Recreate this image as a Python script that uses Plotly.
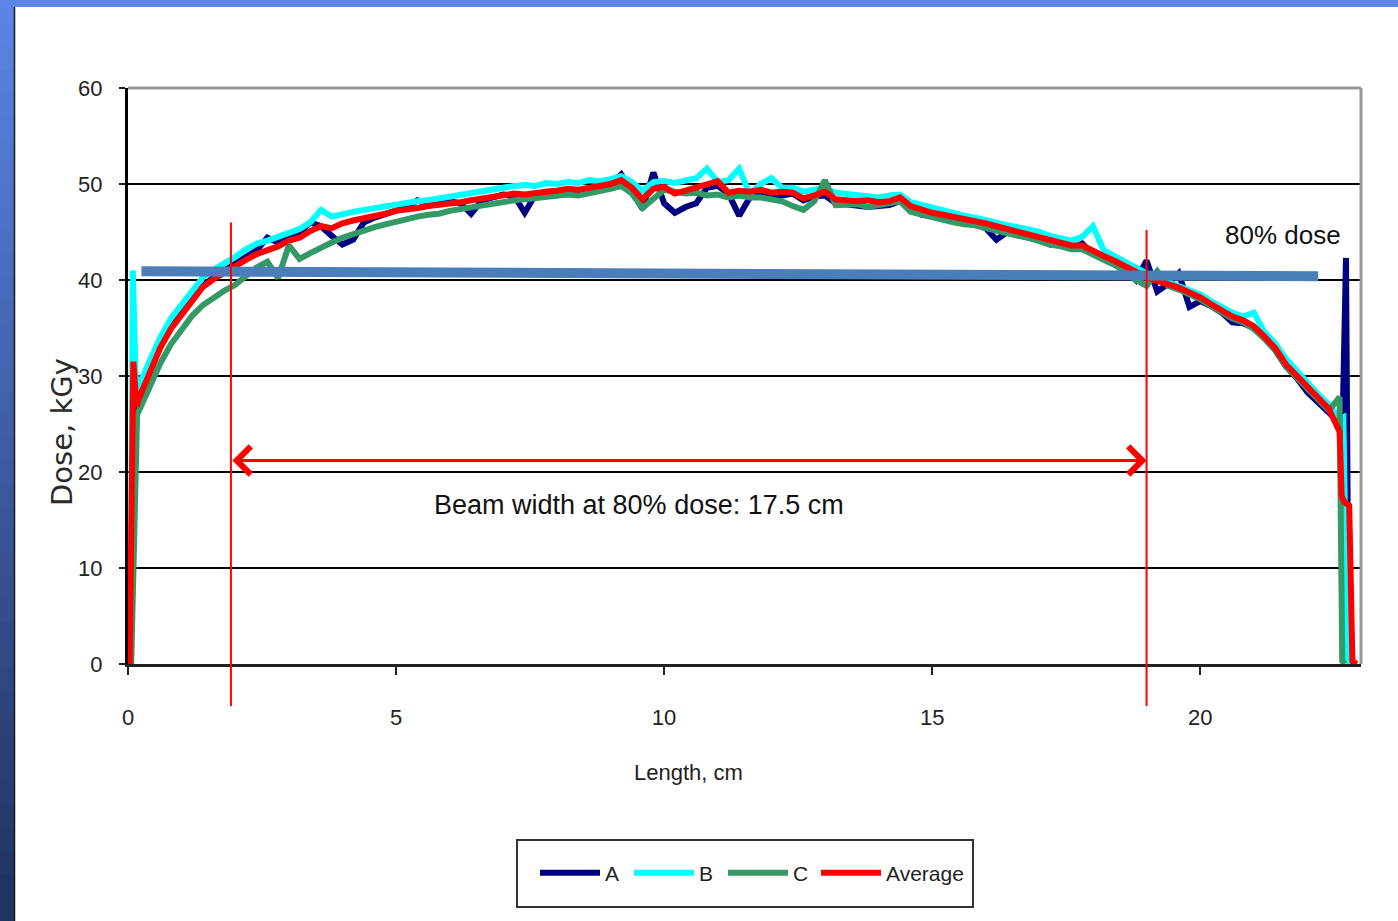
import plotly.graph_objects as go

# ---------------- data ----------------
X_BODY = [round(0.2 * i, 1) for i in range(1, 114)]  # 0.2 ... 22.6 cm

AVG_BODY = [27.6, 30.2, 32.9, 34.9, 36.4, 37.9, 39.3, 40.1, 40.8, 41.4,
            42.1, 42.7, 43.1, 43.5, 44.1, 44.4, 45.1, 45.6, 45.4, 45.9,
            46.2, 46.4, 46.7, 46.9, 47.2, 47.3, 47.5, 47.7, 47.8, 48.0,
            48.1, 48.3, 48.5, 48.6, 48.9, 49.0, 48.9, 49.1, 49.2, 49.3,
            49.5, 49.4, 49.6, 49.7, 50.0, 50.4, 49.6, 48.4, 49.5, 49.7,
            49.0, 49.3, 49.6, 50.0, 50.3, 49.1, 49.3, 49.2, 49.4, 49.1,
            49.2, 49.1, 48.5, 48.8, 49.2, 48.4, 48.3, 48.2, 48.3, 48.1,
            48.2, 48.6, 47.7, 47.3, 47.0, 46.8, 46.6, 46.3, 46.1, 45.9,
            45.6, 45.3, 45.1, 44.8, 44.4, 44.1, 43.9, 43.6, 43.6, 43.0,
            42.5, 42.0, 41.4, 40.8, 40.3, 39.9, 39.6, 39.2, 38.7, 38.2,
            37.5, 36.8, 36.2, 35.8, 35.2, 34.1, 32.9, 31.2, 30.0, 28.8,
            27.6, 26.6, 24.2]

A_BODY = [28.0, 31.2, 33.5, 35.2, 36.6, 38.0, 39.4, 40.3, 41.0, 41.7,
          42.5, 43.1, 44.4, 43.9, 44.3, 44.9, 46.0, 45.6, 44.6, 43.7,
          44.2, 46.0, 46.5, 46.9, 47.3, 47.6, 48.3, 47.9, 48.0, 48.2,
          48.0, 46.9, 48.3, 48.6, 48.9, 48.8, 47.0, 48.9, 49.2, 49.2,
          49.4, 49.1, 49.5, 49.6, 50.0, 51.0, 49.3, 47.4, 51.2, 48.0,
          47.0, 47.6, 48.0, 49.6, 49.8, 49.0, 46.7, 48.6, 49.0, 48.6,
          48.8, 49.0, 48.3, 48.7, 48.8, 48.0, 47.9, 47.8, 47.6, 47.7,
          47.8, 48.2, 47.3, 46.8, 46.6, 46.4, 46.2, 45.9, 45.8, 45.4,
          44.2, 45.0, 44.7, 44.5, 44.1, 43.7, 43.6, 43.3, 43.8, 42.7,
          42.2, 41.6, 41.1, 40.0, 42.0, 38.8, 39.6, 40.7, 37.2, 37.8,
          37.3, 36.6, 35.6, 35.5, 35.0, 33.9, 32.7, 31.0, 29.8, 28.3,
          27.3, 26.2, 25.0]

B_BODY = [29.0, 31.6, 34.0, 36.0, 37.5, 39.0, 40.3, 41.1, 41.7, 42.4,
          43.2, 43.8, 44.1, 44.5, 44.9, 45.3, 46.0, 47.3, 46.6, 46.9,
          47.1, 47.3, 47.5, 47.7, 47.9, 48.0, 48.2, 48.3, 48.5, 48.6,
          48.8, 49.1, 49.2, 49.4, 49.6, 49.8, 49.9, 49.8, 50.1, 50.0,
          50.2, 50.1, 50.4, 50.3, 50.5, 50.8, 50.2, 49.3, 50.2, 50.3,
          50.1, 50.4, 50.6, 51.6, 50.2, 50.4, 51.6, 48.9, 50.0, 50.6,
          49.6, 49.6, 49.2, 49.4, 49.6, 49.1, 49.0, 48.9, 48.8, 48.6,
          48.8, 48.9, 48.1, 47.8, 47.5, 47.2, 47.0, 46.7, 46.5, 46.2,
          46.0, 45.7, 45.5, 45.3, 45.0, 44.6, 44.4, 44.1, 44.5, 45.6,
          43.1, 42.5, 41.9, 41.2, 40.7, 40.2, 39.8, 39.4, 39.0, 38.5,
          37.8, 37.2, 36.6, 36.2, 36.6, 34.6, 33.4, 31.8, 30.5, 29.3,
          28.1, 27.0, 25.5]

C_BODY = [26.3, 28.9, 31.3, 33.3, 34.9, 36.3, 37.4, 38.2, 38.9, 39.5,
          40.4, 41.3, 41.9, 40.2, 43.6, 42.2, 42.8, 43.4, 43.9, 44.4,
          44.8, 45.2, 45.5, 45.8, 46.1, 46.3, 46.6, 46.8, 46.9, 47.2,
          47.4, 47.6, 47.8, 47.9, 48.1, 48.3, 48.4, 48.5, 48.7, 48.7,
          48.9, 48.8, 49.0, 49.2, 49.5, 49.8, 49.0, 47.5, 48.5, 49.4,
          49.2, 49.0, 49.1, 48.8, 48.9, 48.6, 48.8, 48.6, 48.6, 48.4,
          48.2, 47.7, 47.3, 48.2, 50.4, 47.8, 47.8, 47.9, 47.6, 47.8,
          47.9, 48.2, 47.1, 46.8, 46.5, 46.3, 46.0, 45.8, 45.7, 45.4,
          45.1, 44.8, 44.6, 44.4, 44.0, 43.7, 43.5, 43.2, 43.2, 42.6,
          42.1, 41.6, 40.9, 40.0, 39.4, 40.9, 39.4, 39.0, 38.5, 38.0,
          37.3, 36.6, 36.0, 35.6, 34.9, 33.9, 32.7, 31.0, 29.8, 28.6,
          27.5, 26.4, 27.8]

# edge segments (beam entry / exit)
A_LEAD_X, A_LEAD_Y = [0.0, 0.04, 0.12, 0.17], [0.0, 3.0, 29.5, 27.5]
A_TAIL_X, A_TAIL_Y = [22.66, 22.72, 22.77, 22.82], [26.0, 42.3, 0.3, 0.0]
B_LEAD_X, B_LEAD_Y = [0.03, 0.06, 0.09, 0.15], [0.0, 12.0, 41.0, 28.5]
B_TAIL_X, B_TAIL_Y = [22.67, 22.7, 22.75, 22.8], [25.7, 18.0, 0.3, 0.0]
C_LEAD_X, C_LEAD_Y = [0.06, 0.17], [0.0, 26.0]
C_TAIL_X, C_TAIL_Y = [22.65, 22.7], [0.3, 0.0]
AVG_LEAD_X, AVG_LEAD_Y = [0.0, 0.03, 0.1, 0.16], [0.0, 0.0, 31.5, 26.8]
AVG_TAIL_X, AVG_TAIL_Y = [22.64, 22.7, 22.78, 22.84, 22.92], [17.5, 16.8, 16.5, 0.3, 0.0]

DOSE80_X = [0.25, 22.2]
DOSE80_Y = [40.9, 40.4]

BEAM_LEFT = 1.92
BEAM_RIGHT = 19.0
ARROW_Y = 21.2

SERIES_NAMES = ["A", "B", "C", "Average"]
SERIES_COLORS = ["#000080", "#00FFFF", "#339966", "#FF0000"]

X_TICKS = [0, 5, 10, 15, 20]
Y_TICKS = [0, 10, 20, 30, 40, 50, 60]

# ---------------- layout geometry ----------------
W, H = 1398, 921
ML, MR, MT, MB = 128, 37, 88, 257
PW, PH = W - ML - MR, H - MT - MB


def px_x(px):
    return (px - ML) / PW


def px_y(py):
    return (H - MB - py) / PH


FONT = "Liberation Sans, Arial, sans-serif"

fig = go.Figure()

series = [
    (A_LEAD_X, A_LEAD_Y, A_BODY, A_TAIL_X, A_TAIL_Y),
    (B_LEAD_X, B_LEAD_Y, B_BODY, B_TAIL_X, B_TAIL_Y),
    (C_LEAD_X, C_LEAD_Y, C_BODY, C_TAIL_X, C_TAIL_Y),
    (AVG_LEAD_X, AVG_LEAD_Y, AVG_BODY, AVG_TAIL_X, AVG_TAIL_Y),
]
for name, color, (lx, ly, body, tx, ty) in zip(SERIES_NAMES, SERIES_COLORS, series):
    fig.add_trace(go.Scatter(
        x=lx + X_BODY + tx, y=ly + body + ty, mode="lines", name=name,
        legend="legend2" if name == "Average" else "legend",
        line=dict(color=color, width=6),
    ))

fig.add_trace(go.Scatter(
    x=DOSE80_X, y=DOSE80_Y, mode="lines", showlegend=False,
    line=dict(color="#4A7EBB", width=10), hoverinfo="skip",
))

shapes = []
# slide background gradient (left strip) and top strip
N = 40
c0, c1 = (91, 134, 229), (32, 48, 94)
for i in range(N):
    t = (i + 0.5) / N
    col = tuple(int(round(c0[k] + (c1[k] - c0[k]) * t)) for k in range(3))
    shapes.append(dict(type="rect", xref="paper", yref="paper",
                       x0=px_x(0), x1=px_x(14), y0=px_y(H * i / N), y1=px_y(H * (i + 1) / N + 1),
                       fillcolor="rgb(%d,%d,%d)" % col, line=dict(width=0), layer="below"))
shapes.append(dict(type="rect", xref="paper", yref="paper",
                   x0=px_x(0), x1=px_x(W), y0=px_y(0), y1=px_y(7),
                   fillcolor="#5B86E5", line=dict(width=0)))
shapes.append(dict(type="line", xref="paper", yref="paper",
                   x0=px_x(14.5), x1=px_x(14.5), y0=px_y(7), y1=px_y(H),
                   line=dict(color="#1a1a1a", width=1.5)))
# plot frame (top and right in grey)
shapes.append(dict(type="line", xref="paper", yref="paper", x0=0, x1=1, y0=1, y1=1,
                   line=dict(color="#9a9a9a", width=3)))
shapes.append(dict(type="line", xref="paper", yref="paper", x0=1, x1=1, y0=0, y1=1,
                   line=dict(color="#9a9a9a", width=3)))
# beam-width markers
for bx, top in [(BEAM_LEFT, 46.0), (BEAM_RIGHT, 45.2)]:
    shapes.append(dict(type="line", xref="x", yref="paper", x0=bx, x1=bx,
                       y0=px_y(706), y1=top / 60.0,
                       line=dict(color="#FF0000", width=2)))
# legend box
shapes.append(dict(type="rect", xref="paper", yref="paper",
                   x0=px_x(517), x1=px_x(973), y0=px_y(907), y1=px_y(840),
                   line=dict(color="#333333", width=2), fillcolor="white", layer="below"))

annotations = [
    dict(x=BEAM_RIGHT, y=ARROW_Y, ax=BEAM_LEFT, ay=ARROW_Y, xref="x", yref="y",
         axref="x", ayref="y", text="", showarrow=True, arrowside="end+start",
         arrowhead=4, startarrowhead=4, arrowsize=1.8, startarrowsize=1.8,
         arrowwidth=3, arrowcolor="#FF0000"),
    dict(x=9.53, y=16.6, xref="x", yref="y", text="Beam width at 80% dose: 17.5 cm",
         xanchor="center", yanchor="middle",
         showarrow=False, font=dict(family=FONT, size=27, color="#111111")),
    dict(x=21.55, y=44.7, xref="x", yref="y", text="80% dose",
         xanchor="center", yanchor="middle",
         showarrow=False, font=dict(family=FONT, size=26, color="#111111")),
    dict(x=px_x(62), y=px_y(432), xref="paper", yref="paper", text="Dose, kGy",
         textangle=-90, showarrow=False, xanchor="center", yanchor="middle",
         font=dict(family="DejaVu Sans, sans-serif", size=29, color="#2a2a2a")),
    dict(x=px_x(688), y=px_y(772), xref="paper", yref="paper", text="Length, cm",
         xanchor="center", yanchor="middle",
         showarrow=False, font=dict(family=FONT, size=22, color="#222222")),
]

LEG_FONT = dict(family=FONT, size=21, color="#222222")

fig.update_layout(
    width=W, height=H,
    margin=dict(l=ML, r=MR, t=MT, b=MB),
    paper_bgcolor="white", plot_bgcolor="white",
    shapes=shapes, annotations=annotations,
    showlegend=True,
    legend=dict(orientation="h", x=px_x(535), y=px_y(873), xanchor="left", yanchor="middle",
                bgcolor="rgba(0,0,0,0)", borderwidth=0, itemwidth=60,
                entrywidth=19, entrywidthmode="pixels", font=LEG_FONT),
    legend2=dict(orientation="h", x=px_x(816), y=px_y(873), xanchor="left", yanchor="middle",
                 bgcolor="rgba(0,0,0,0)", borderwidth=0, itemwidth=60, font=LEG_FONT),
    xaxis=dict(range=[0, 23], tickvals=X_TICKS, showgrid=False, zeroline=False,
               showline=True, linecolor="#222222", linewidth=2.5,
               ticks="outside", ticklen=8, tickwidth=1.5, tickcolor="#222222",
               ticklabelstandoff=24,
               tickfont=dict(family=FONT, size=22, color="#222222")),
    yaxis=dict(range=[0, 60], tickvals=Y_TICKS, showgrid=True, gridcolor="#000000",
               gridwidth=1.5, zeroline=False,
               showline=True, linecolor="#000000", linewidth=3,
               ticks="outside", ticklen=6, tickwidth=1.5, tickcolor="#222222",
               ticklabelstandoff=12,
               tickfont=dict(family=FONT, size=22, color="#222222")),
)

fig.write_html("out.html", config={"displayModeBar": False},
               post_script="document.body.style.margin='0';")
